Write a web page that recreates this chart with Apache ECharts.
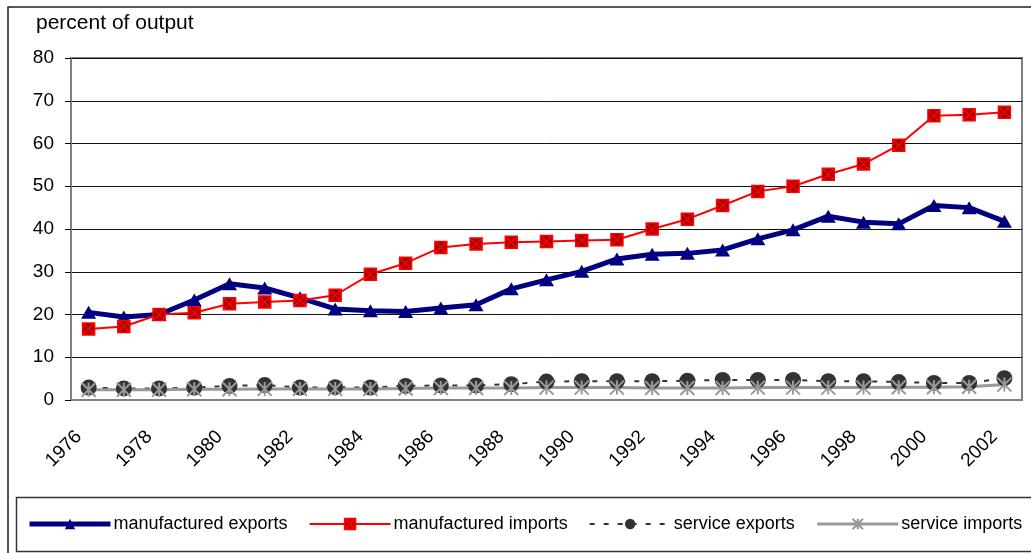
<!DOCTYPE html>
<html>
<head>
<meta charset="utf-8">
<script src="https://cdn.jsdelivr.net/npm/echarts@6/dist/echarts.min.js"></script>
<style>
html,body{margin:0;padding:0;background:#fff}
#chart{width:1031px;height:553px}
</style>
</head>
<body>
<div id="chart"></div>
<script>
// years on the x axis
var years = [];
for (var y = 1976; y <= 2002; y++) years.push(String(y));

// percent of output
var manufExports = [20.5,19.4,20.0,23.4,27.2,26.2,23.9,21.3,20.9,20.7,21.5,22.3,26.0,28.1,30.1,33.0,34.1,34.3,35.1,37.7,39.8,43.0,41.6,41.2,45.5,45.0,41.8];
var manufImports = [16.6,17.2,20.0,20.4,22.5,22.9,23.3,24.5,29.4,32.0,35.7,36.5,36.9,37.1,37.3,37.5,40.0,42.3,45.5,48.8,50.0,52.8,55.2,59.6,66.5,66.7,67.3];
var serviceExports = [2.9,2.7,2.7,2.9,3.3,3.5,2.9,3.0,2.9,3.3,3.4,3.4,3.7,4.3,4.4,4.4,4.4,4.5,4.7,4.7,4.7,4.4,4.4,4.2,4.0,4.0,5.1];
var serviceImports = [2.4,2.4,2.4,2.5,2.5,2.6,2.6,2.6,2.6,2.7,2.8,2.8,2.8,2.9,2.9,2.9,2.8,2.8,2.8,2.9,2.9,2.9,2.9,3.0,3.0,3.1,3.6];

var font = '"Liberation Sans", Arial, sans-serif';

var chart = echarts.init(document.getElementById('chart'));

var option = {
  animation: false,
  textStyle: {fontFamily: font},
  title: {
    text: 'percent of output',
    left: 36, top: 13, padding: 0,
    textStyle: {fontFamily: font, fontSize: 21, fontWeight: 'normal', color: '#000'}
  },
  graphic: [
    {type: 'rect', shape: {x: 8, y: 7, width: 1040, height: 560}, style: {fill: null, stroke: '#222', lineWidth: 1.5}, silent: true},
    {type: 'rect', shape: {x: 16.5, y: 497.5, width: 1040, height: 54}, style: {fill: null, stroke: '#333', lineWidth: 1.5}, silent: true}
  ],
  grid: {
    left: 71, right: 9, top: 58, bottom: 153,
    show: true, borderColor: '#808080', borderWidth: 2, backgroundColor: 'transparent'
  },
  legend: {
    left: 27, top: 515, padding: 0,
    itemWidth: 81, itemHeight: 13, itemGap: 21,
    lineStyle: {width: 'inherit'},
    textStyle: {fontFamily: font, fontSize: 18, color: '#000', padding: [0, 0, 0, -2]},
    data: ['manufactured exports', 'manufactured imports', 'service exports', 'service imports']
  },
  xAxis: {
    type: 'category',
    data: years,
    boundaryGap: true,
    axisLine: {lineStyle: {color: '#808080', width: 2}},
    axisTick: {interval: 0, length: 6, lineStyle: {color: '#000'}},
    axisLabel: {interval: 1, rotate: 45, margin: 24, padding: [0, 14, 0, 0], fontSize: 19, color: '#000', fontFamily: font},
    splitLine: {show: false}
  },
  yAxis: {
    type: 'value',
    min: 0, max: 80, interval: 10,
    axisLine: {show: true, lineStyle: {color: '#808080', width: 2}},
    axisTick: {show: true, length: 6, lineStyle: {color: '#000'}},
    axisLabel: {fontSize: 19, color: '#000', margin: 17, fontFamily: font},
    splitLine: {lineStyle: {color: '#111', width: 1}}
  },
  series: [
    {
      name: 'manufactured exports', type: 'line', data: manufExports,
      symbol: 'triangle', symbolSize: [15, 13],
      lineStyle: {color: '#000080', width: 5},
      itemStyle: {color: '#000080'}
    },
    {
      name: 'manufactured imports', type: 'line', data: manufImports,
      symbol: 'path://M0,0L10,0L10,10L0,10ZM0,0L10,10M10,0L0,10', symbolSize: 12,
      lineStyle: {color: '#ff0000', width: 2},
      itemStyle: {color: '#a00000', borderColor: '#ff0000', borderWidth: 1.5}
    },
    {
      name: 'service exports', type: 'line', data: serviceExports,
      symbol: 'circle', symbolSize: 16,
      lineStyle: {color: '#333333', width: 2, type: [5, 9]},
      itemStyle: {color: '#333333'}
    },
    {
      name: 'service imports', type: 'line', data: serviceImports,
      symbol: 'path://M5,0L5,10M0,0L10,10M10,0L0,10', symbolSize: 14,
      lineStyle: {color: '#999999', width: 3},
      itemStyle: {color: '#999999', borderColor: '#999999', borderWidth: 2}
    }
  ]
};

chart.setOption(option);
</script>
</body>
</html>
